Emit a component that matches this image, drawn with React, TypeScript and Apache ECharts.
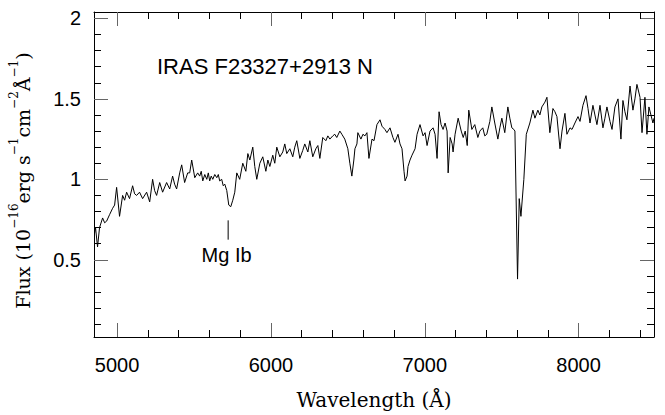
import React, { useEffect, useRef } from "react";
import * as echarts from "echarts";

// Spectrum (wavelength in Å, flux in 1e-16 erg/s/cm2/Å)
const wavelength = [
  4853, 4860, 4873, 4886, 4906, 4919, 4932, 4951, 4971, 4984, 4997, 5016, 5036, 5049, 5062, 5081,
  5101, 5114, 5127, 5146, 5166, 5192, 5212, 5231, 5244, 5257, 5277, 5296, 5322, 5342, 5361, 5374,
  5387, 5407, 5420, 5439, 5459, 5472, 5485, 5505, 5524, 5537, 5547, 5557, 5570, 5583, 5593, 5602,
  5612, 5622, 5635, 5648, 5658, 5667, 5680, 5690, 5700, 5713, 5726, 5739, 5752, 5765, 5778, 5797,
  5817, 5837, 5850, 5863, 5882, 5895, 5908,
  5928, 5947, 5967, 5980, 5993, 6012, 6025, 6038, 6058, 6077, 6090, 6103, 6123, 6142, 6155, 6168,
  6188, 6207, 6220, 6240, 6253, 6272, 6292, 6305, 6318, 6337, 6357, 6370, 6383, 6402, 6415, 6428,
  6448, 6461, 6480, 6500, 6513, 6526, 6539, 6546, 6559, 6565, 6585, 6598, 6611, 6624, 6637, 6657,
  6670, 6689, 6709, 6722, 6741, 6754, 6774, 6793, 6806, 6826, 6839, 6852, 6865, 6872, 6885, 6891,
  6904, 6917, 6937, 6950, 6969, 6989, 7002, 7015, 7034, 7054, 7067, 7080, 7093, 7106, 7119, 7132,
  7145, 7152, 7165, 7178, 7184, 7197, 7217, 7237, 7250, 7263, 7276, 7286, 7306, 7325, 7345, 7358,
  7377, 7390, 7403, 7423, 7436, 7455, 7475, 7488, 7501, 7520, 7540, 7553, 7566, 7579, 7586, 7603,
  7614, 7625, 7644, 7660, 7683, 7703, 7716, 7735, 7748, 7761, 7781, 7794, 7813, 7833, 7846, 7859,
  7879, 7892, 7911, 7924, 7944, 7957, 7976, 7996, 8009, 8028, 8048, 8061, 8074, 8093, 8106, 8119,
  8139, 8158, 8171, 8184, 8204, 8217, 8236, 8256, 8275, 8288, 8301, 8314, 8334, 8353, 8366, 8379,
  8399, 8412, 8431, 8444, 8457, 8470, 8483, 8490,
];
const flux = [
  0.66, 0.70, 0.58, 0.70, 0.76, 0.73, 0.74, 0.78, 0.82, 0.84, 0.95, 0.77, 0.90, 0.87, 0.92, 0.88,
  0.96, 0.91, 0.90, 0.92, 0.88, 0.92, 0.86, 1.00, 0.93, 0.90, 0.98, 0.92, 0.98, 0.94, 1.02, 0.97,
  0.94, 1.04, 1.09, 0.98, 1.04, 1.04, 1.12, 1.01, 1.04, 1.02, 1.05, 0.99, 1.03, 1.00, 1.04, 0.99,
  1.02, 1.00, 1.03, 1.01, 1.03, 0.99, 1.00, 0.96, 0.97, 0.93, 0.84, 0.83, 0.87, 0.92, 1.04, 1.00,
  1.10, 1.05, 1.16, 1.12, 1.20, 1.08, 1.00,
  1.10, 1.14, 1.05, 1.12, 1.08, 1.15, 1.10, 1.20, 1.14, 1.17, 1.22, 1.16, 1.19, 1.14, 1.20, 1.24,
  1.13, 1.18, 1.22, 1.17, 1.24, 1.14, 1.19, 1.21, 1.13, 1.26, 1.24, 1.27, 1.25, 1.27, 1.28, 1.26,
  1.30, 1.28, 1.25, 1.19, 1.10, 1.02, 1.12, 1.19, 1.22, 1.29, 1.25, 1.28, 1.27, 1.29, 1.13, 1.25,
  1.24, 1.34, 1.37, 1.33, 1.31, 1.29, 1.32, 1.26, 1.23, 1.28, 1.22, 1.19, 1.05, 0.99, 1.02, 1.08,
  1.12, 1.15, 1.19, 1.28, 1.34, 1.27, 1.29, 1.21, 1.30, 1.32, 1.28, 1.13, 1.42, 1.34, 1.31, 1.35,
  1.30, 1.04, 1.26, 1.22, 1.17, 1.28, 1.38, 1.30, 1.26, 1.30, 1.21, 1.43, 1.31, 1.34, 1.26, 1.30,
  1.32, 1.27, 1.28, 1.36, 1.45, 1.35, 1.25, 1.32, 1.38, 1.29, 1.45, 1.38, 1.32, 1.31, 1.30, 0.38,
  0.88, 0.77, 1.00, 1.28, 1.35, 1.43, 1.38, 1.43, 1.40, 1.45, 1.48, 1.51, 1.29, 1.44, 1.42, 1.39,
  1.19, 1.30, 1.41, 1.28, 1.32, 1.31, 1.35, 1.39, 1.36, 1.46, 1.52, 1.44, 1.35, 1.46, 1.40, 1.34,
  1.46, 1.32, 1.38, 1.45, 1.36, 1.31, 1.45, 1.50, 1.25, 1.49, 1.42, 1.37, 1.58, 1.43, 1.50, 1.59,
  1.51, 1.29, 1.51, 1.28, 1.45, 1.40, 1.35, 1.38,
];

const xMin = 4850;
const xMax = 8490;
const yMin = 0.02;
const yMax = 2.04;
const xMajorTicks = [5000, 6000, 7000, 8000];
const xMinorTicks = [5200, 5400, 5600, 5800, 6200, 6400, 6600, 6800, 7200, 7400, 7600, 7800, 8200, 8400];
const yMajorTicks = [0.5, 1, 1.5, 2];
const yMinorTicks = [0.1, 0.2, 0.3, 0.4, 0.6, 0.7, 0.8, 0.9, 1.1, 1.2, 1.3, 1.4, 1.6, 1.7, 1.8, 1.9];

const mgIbLineX = [5722, 5722];
const mgIbLineY = [0.625, 0.745];
const mgIbLabel = [5712, 0.53];
const objectName = "IRAS F23327+2913 N";

const SANS = "'Liberation Sans', Arial, Helvetica, sans-serif";
const SERIF = "'DejaVu Serif', 'Liberation Serif', serif";

function xAxisDef(position: "top" | "bottom", major: boolean, withLabels: boolean) {
  return {
    type: "value",
    min: xMin,
    max: xMax,
    position,
    axisLine: { show: major, onZero: false, lineStyle: { color: "#000", width: 1 } },
    axisTick: {
      show: true,
      inside: true,
      length: major ? 14 : 7,
      customValues: major ? xMajorTicks : xMinorTicks,
      lineStyle: { color: major ? "#666" : "#000", width: 1 },
    },
    axisLabel: withLabels
      ? {
          show: true,
          customValues: xMajorTicks,
          formatter: (v: number) => String(v),
          fontSize: 20,
          color: "#000",
          fontFamily: SANS,
          margin: 18,
        }
      : { show: false },
    splitLine: { show: false },
    ...(withLabels
      ? {
          name: "Wavelength (Å)",
          nameLocation: "middle",
          nameGap: 53,
          nameTextStyle: { fontFamily: SERIF, fontSize: 20, color: "#000" },
        }
      : {}),
  };
}

function yAxisDef(position: "left" | "right", major: boolean, withLabels: boolean) {
  return {
    type: "value",
    min: yMin,
    max: yMax,
    position,
    axisLine: { show: major, onZero: false, lineStyle: { color: "#000", width: 1 } },
    axisTick: {
      show: true,
      inside: true,
      length: major ? 14 : 7,
      customValues: major ? yMajorTicks : yMinorTicks,
      lineStyle: { color: major ? "#666" : "#000", width: 1 },
    },
    axisLabel: withLabels
      ? {
          show: true,
          customValues: yMajorTicks,
          formatter: (v: number) => String(v),
          fontSize: 20,
          color: "#000",
          fontFamily: SANS,
          margin: 13,
        }
      : { show: false },
    splitLine: { show: false },
    ...(withLabels
      ? {
          name: "{n|Flux (10}{s|−16}{n|erg s}{s|−1}{n|cm}{s|−2}{n|Å}{s|−1}{n|)}",
          nameLocation: "middle",
          nameRotate: 90,
          nameGap: 62,
          nameTextStyle: {
            color: "#000",
            padding: [0, 12, 0, 0],
            rich: {
              n: { fontFamily: SERIF, fontSize: 19, lineHeight: 24, verticalAlign: "bottom", color: "#000" },
              s: { fontFamily: SERIF, fontSize: 12, lineHeight: 13, verticalAlign: "top", color: "#000" },
            },
          },
        }
      : {}),
  };
}

export default function App() {
  const ref = useRef<HTMLDivElement>(null);

  useEffect(() => {
    if (!ref.current) return;
    const chart = echarts.init(ref.current, undefined, { renderer: "svg" });
    const spectrum = wavelength.map((w, i) => [w, flux[i]]);
    const marker = mgIbLineX.map((w, i) => [w, mgIbLineY[i]]);
    chart.setOption({
      animation: false,
      backgroundColor: "#fff",
      grid: { left: 94, top: 12, right: 11, bottom: 68, containLabel: false },
      xAxis: [
        xAxisDef("bottom", true, true),
        xAxisDef("bottom", false, false),
        xAxisDef("top", true, false),
        xAxisDef("top", false, false),
      ],
      yAxis: [
        yAxisDef("left", true, true),
        yAxisDef("left", false, false),
        yAxisDef("right", true, false),
        yAxisDef("right", false, false),
      ],
      title: {
        text: objectName,
        left: 157,
        top: 55,
        padding: 0,
        textStyle: { fontFamily: SANS, fontSize: 22, fontWeight: "normal", color: "#000" },
      },
      series: [
        {
          type: "line",
          data: spectrum,
          showSymbol: false,
          symbol: "none",
          lineStyle: { color: "#000", width: 1 },
          clip: true,
        },
        {
          type: "line",
          data: marker,
          showSymbol: false,
          symbol: "none",
          lineStyle: { color: "#000", width: 1 },
        },
        {
          type: "scatter",
          data: [mgIbLabel],
          symbolSize: 0,
          itemStyle: { opacity: 1 },
          label: {
            show: true,
            position: "inside",
            formatter: "Mg Ib",
            fontFamily: SANS,
            fontSize: 20,
            color: "#000",
            opacity: 1,
          },
        },
      ],
    });
    return () => chart.dispose();
  }, []);

  return <div ref={ref} style={{ width: 665, height: 415, position: "absolute", left: 0, top: 0 }} />;
}
